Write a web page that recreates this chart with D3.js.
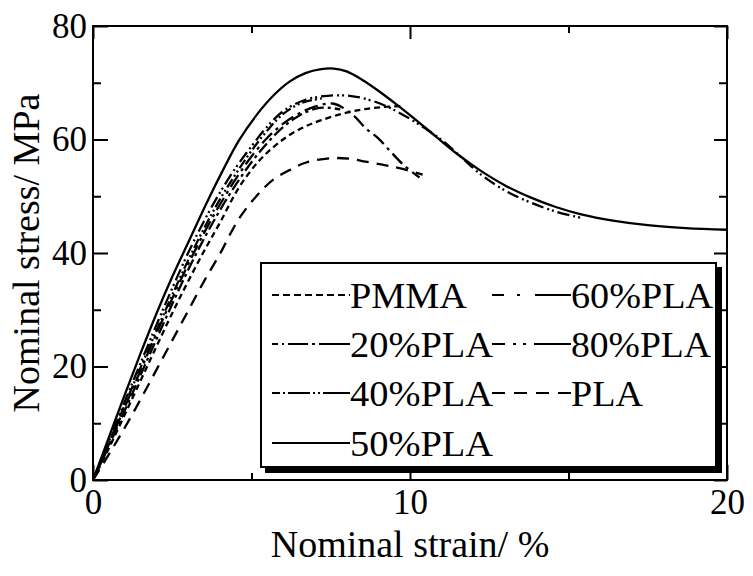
<!DOCTYPE html>
<html>
<head>
<meta charset="utf-8">
<script src="https://cdn.jsdelivr.net/npm/d3@7"></script>
<style>
  html, body { margin: 0; padding: 0; background: #fff; }
  svg text { font-family: "Liberation Serif", "Times New Roman", serif; fill: #000; }
</style>
</head>
<body>
<svg id="chart" width="753" height="576"></svg>
<script>
// ---------- data ----------
const seriesNames = ["PMMA", "20%PLA", "40%PLA", "50%PLA", "60%PLA", "80%PLA", "PLA"];

const pmmaStrain = [0,0.5,1,1.5,2,2.5,3,3.5,4,4.6,5.2,5.7,6.2,6.7,7.2,7.9,8.5,9.1,9.8];
const pmmaStress = [0,5.6,11.5,17.5,23.5,29.4,35.0,40.3,45.3,51.5,56.0,58.7,60.8,62.3,63.4,64.6,65.3,65.7,65.9];

const pla20Strain = [0,0.5,1,1.5,2,2.5,3,3.5,4,4.5,5,5.5,6,6.5,7.0,7.4,7.8];
const pla20Stress = [0,6.0,12.2,18.5,24.8,31.0,37.0,42.5,47.5,52.0,56.0,59.4,62.2,64.2,65.4,65.6,65.3];

const pla40Strain = [0,0.5,1,1.5,2,2.5,3,3.5,4,4.5,5,5.5,6,6.6,7.3];
const pla40Stress = [0,6.5,13.2,19.8,26.3,32.6,38.7,44.3,49.4,53.9,58.0,61.6,64.5,66.5,67.3];

const pla50Strain = [0,0.5,1,1.5,2,2.5,3,3.6,4.1,4.6,5.2,5.7,6.2,6.7,7.2,7.6,8.0,8.5,9.0,9.5,10.0,10.8,11.5,12.2,13.0,13.8,14.6,15.4,16.4,17.5,18.7,20];
const pla50Stress = [0,7.5,15,22.3,29.3,35.8,41.8,49.0,54.6,59.8,64.6,67.8,70.2,71.7,72.4,72.5,72.0,70.5,68.6,66.5,64.3,60.6,57.4,54.6,51.9,49.8,48.1,46.8,45.7,44.9,44.4,44.1];

const pla60Strain = [0,0.5,1,1.5,2,2.5,3,3.5,4,4.5,5,5.5,6,6.5,7.0,7.6,8.2,8.6,9.0,9.4,9.8,10.3];
const pla60Stress = [0,6.3,12.8,19.3,25.8,32.0,38.0,43.5,48.5,53.0,57.0,60.3,62.8,64.6,65.8,66.3,64.3,62.0,60.2,57.8,55.5,53.3];

const pla80Strain = [0,0.5,1,1.5,2,2.5,3,3.5,4,4.5,5,5.5,6,6.7,7.4,8.1,8.7,9.2,9.7,10.3,11.0,11.6,12.2,13.0,13.8,14.6,15.4];
const pla80Stress = [0,6.8,13.8,20.6,27.3,33.8,40.0,45.6,50.6,55.0,58.8,62.3,65.0,67.0,67.7,67.7,67.0,66.0,64.6,62.6,59.9,57.0,54.0,51.0,48.9,47.3,46.2];

const plaStrain = [0,0.5,1,1.5,2,2.5,3,3.5,4,4.6,5.2,5.7,6.2,6.7,7.5,8.1,8.6,9.2,9.7,10.4];
const plaStress = [0,4.5,9.2,14.2,19.4,24.6,29.8,35.0,39.8,46.0,50.3,53.0,54.6,55.9,56.7,56.6,56.1,55.5,54.9,53.8];

const xMajorTicks = [0, 10, 20];
const xMinorTicks = [5, 15];
const yMajorTicks = [0, 20, 40, 60, 80];
const yMinorTicks = [10, 30, 50, 70];
const xTitle = "Nominal strain/ %";
const yTitle = "Nominal stress/ MPa";

// ---------- styles (not data) ----------
const curveDash = {
  "PMMA": "6,4",
  "20%PLA": "12,4,3,4",
  "40%PLA": "10,3,2,3,2,3",
  "50%PLA": null,
  "60%PLA": "14,5,3,5",
  "80%PLA": "12,4,2,3,2,4",
  "PLA": "12,8"
};
const legendDash = {
  "PMMA": "7,4",
  "20%PLA": "6,4,2,4,20,4,3,4,40",
  "40%PLA": "8,3,2,3,22,3,2,3,2,3,40",
  "50%PLA": null,
  "60%PLA": "12,13,3,15,40",
  "80%PLA": "13,8,3,7,3,8,40",
  "PLA": "13,9"
};

const seriesData = [
  [pmmaStrain, pmmaStress],
  [pla20Strain, pla20Stress],
  [pla40Strain, pla40Stress],
  [pla50Strain, pla50Stress],
  [pla60Strain, pla60Stress],
  [pla80Strain, pla80Stress],
  [plaStrain, plaStress]
];
const series = seriesNames.map((name, i) => ({
  name,
  points: seriesData[i][0].map((e, j) => [e, seriesData[i][1][j]])
}));

// ---------- layout ----------
const L = 93, R = 727, T = 26, B = 480;
const svg = d3.select("#chart");
const x = d3.scaleLinear().domain([0, 20]).range([L, R]);
const y = d3.scaleLinear().domain([0, 80]).range([B, T]);
const tickFont = "35px";

// axes
function styleAxis(g) {
  g.selectAll("path.domain").remove();
  g.selectAll("line").attr("stroke", "#000").attr("stroke-width", 2);
  g.selectAll("text").style("font-size", tickFont).style("font-family", '"Liberation Serif", "Times New Roman", serif').attr("fill", "#000");
}
svg.append("g").attr("transform", `translate(0,${B})`)
  .call(d3.axisBottom(x).tickValues(xMajorTicks).tickSizeInner(-15).tickSizeOuter(0).tickPadding(9).tickFormat(d3.format("d")))
  .call(styleAxis);
svg.append("g").attr("transform", `translate(0,${B})`)
  .call(d3.axisBottom(x).tickValues(xMinorTicks).tickSizeInner(-7).tickSizeOuter(0).tickFormat(""))
  .call(styleAxis);
svg.append("g").attr("transform", `translate(0,${T})`)
  .call(d3.axisTop(x).tickValues(xMajorTicks).tickSizeInner(-13).tickSizeOuter(0).tickFormat(""))
  .call(styleAxis);
svg.append("g").attr("transform", `translate(0,${T})`)
  .call(d3.axisTop(x).tickValues(xMinorTicks).tickSizeInner(-7).tickSizeOuter(0).tickFormat(""))
  .call(styleAxis);
svg.append("g").attr("transform", `translate(${L},0)`)
  .call(d3.axisLeft(y).tickValues(yMajorTicks).tickSizeInner(-15).tickSizeOuter(0).tickPadding(6).tickFormat(d3.format("d")))
  .call(styleAxis);
svg.append("g").attr("transform", `translate(${L},0)`)
  .call(d3.axisLeft(y).tickValues(yMinorTicks).tickSizeInner(-8).tickSizeOuter(0).tickFormat(""))
  .call(styleAxis);
svg.append("g").attr("transform", `translate(${R},0)`)
  .call(d3.axisRight(y).tickValues(yMajorTicks).tickSizeInner(-13).tickSizeOuter(0).tickFormat(""))
  .call(styleAxis);
svg.append("g").attr("transform", `translate(${R},0)`)
  .call(d3.axisRight(y).tickValues(yMinorTicks).tickSizeInner(-8).tickSizeOuter(0).tickFormat(""))
  .call(styleAxis);

// frame
svg.append("rect").attr("x", L).attr("y", T).attr("width", R - L).attr("height", B - T)
  .attr("fill", "none").attr("stroke", "#000").attr("stroke-width", 2);

// curves
const line = d3.line().x(d => x(d[0])).y(d => y(d[1])).curve(d3.curveCatmullRom.alpha(0.5));
svg.append("g").selectAll("path").data(series).join("path")
  .attr("d", d => line(d.points))
  .attr("fill", "none")
  .attr("stroke", "#000")
  .attr("stroke-width", 2.3)
  .attr("stroke-dasharray", d => curveDash[d.name]);

// axis titles
svg.append("text").attr("x", (L + R) / 2).attr("y", 557).attr("text-anchor", "middle")
  .style("font-size", "38px").text(xTitle);
svg.append("text").attr("transform", `translate(39,${(T + B) / 2}) rotate(-90)`).attr("text-anchor", "middle")
  .style("font-size", "38px").text(yTitle);

// legend
const lg = svg.append("g");
lg.append("rect").attr("x", 265).attr("y", 267).attr("width", 457).attr("height", 206).attr("fill", "#000");
lg.append("rect").attr("x", 261).attr("y", 263).attr("width", 455).attr("height", 204)
  .attr("fill", "#fff").attr("stroke", "#000").attr("stroke-width", 2);

const legendItems = [
  { name: "PMMA", col: 0, row: 0, w: 117 },
  { name: "60%PLA", col: 1, row: 0, w: 142 },
  { name: "20%PLA", col: 0, row: 1, w: 143 },
  { name: "80%PLA", col: 1, row: 1, w: 140 },
  { name: "40%PLA", col: 0, row: 2, w: 143 },
  { name: "PLA", col: 1, row: 2, w: 72 },
  { name: "50%PLA", col: 0, row: 3, w: 143 }
];
const colSampleX = [272, 492];
const colTextX = [350, 571];
const rowBase = [308, 357, 406, 456];
legendItems.forEach(it => {
  const by = rowBase[it.row];
  lg.append("line")
    .attr("x1", colSampleX[it.col]).attr("x2", colTextX[it.col])
    .attr("y1", by - 13).attr("y2", by - 13)
    .attr("stroke", "#000").attr("stroke-width", 2.2)
    .attr("stroke-dasharray", legendDash[it.name]);
  lg.append("text").attr("x", colTextX[it.col]).attr("y", by)
    .style("font-size", "36px")
    .attr("textLength", it.w).attr("lengthAdjust", "spacingAndGlyphs")
    .text(it.name);
});
</script>
</body>
</html>
